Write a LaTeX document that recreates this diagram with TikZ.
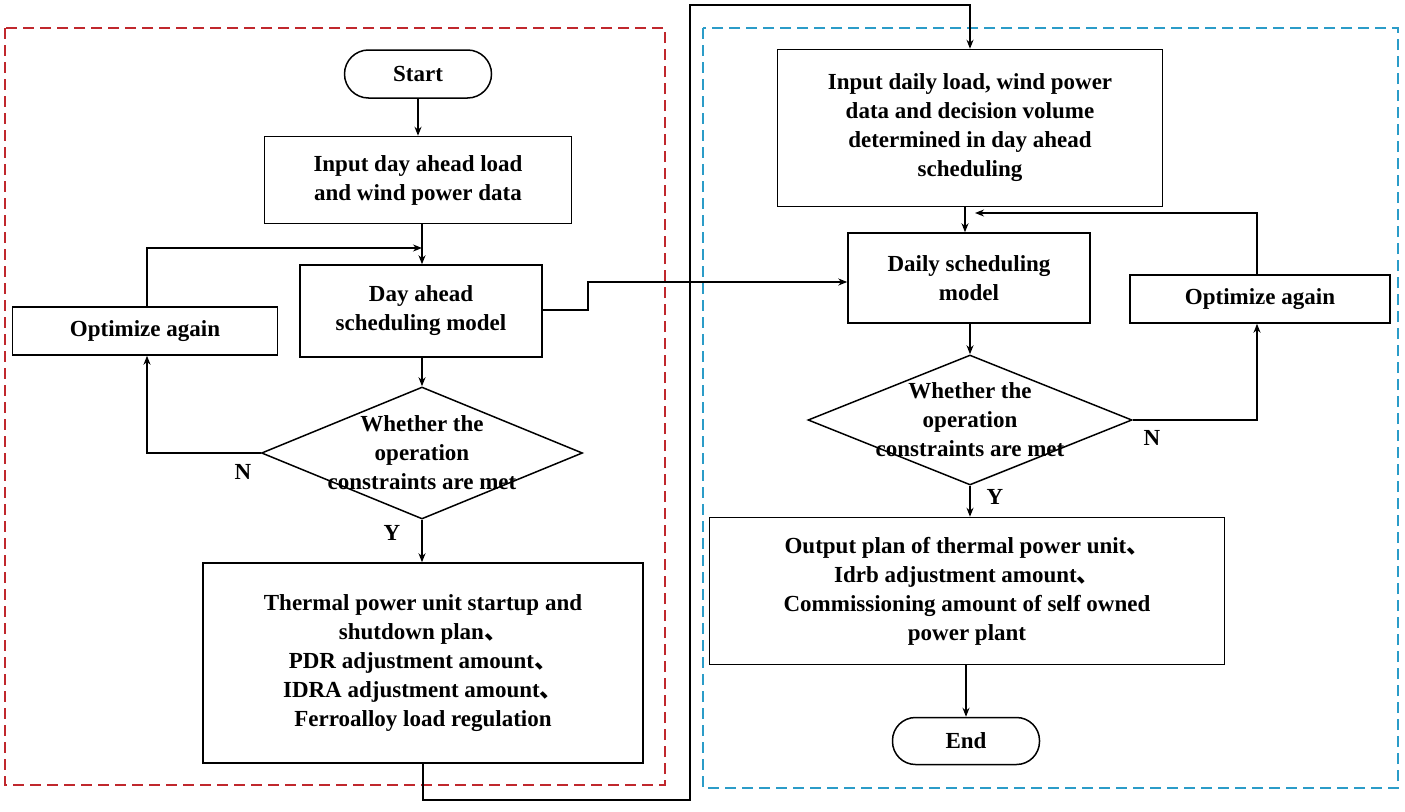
\documentclass[tikz,border=0pt]{standalone}
\usepackage{fontspec}
\setmainfont{Liberation Serif}
\newfontfamily\cjk{Noto Sans CJK SC}
\newcommand{\dun}{{\cjk 、}}
\usetikzlibrary{shapes.geometric,arrows.meta}
\begin{document}
\begin{tikzpicture}[x=1pt,y=-1pt,
  txt/.style={font=\bfseries\fontsize{23}{29}\selectfont,align=center,inner sep=0pt},
  box/.style={draw,line width=1.5pt,txt,minimum width=#1},
  arr/.style={line width=1.5pt,-{Stealth[length=9pt,width=7pt]}},
  ln/.style={line width=1.5pt}]
\useasboundingbox (0,0) rectangle (1405,811);
\fill[white] (0,0) rectangle (1405,811);
\draw[line width=2pt,dash pattern=on 11pt off 6pt,color={rgb,255:red,192;green,40;blue,45}] (5,28) rectangle (665,785);
\draw[line width=2pt,dash pattern=on 11pt off 6pt,color={rgb,255:red,43;green,156;blue,200}] (703,28) rectangle (1398,788);
% left
\node[box=147pt,minimum height=48pt,rounded corners=24pt] (start) at (418,74) {Start};
\node[box=307pt,minimum height=87pt] (in1) at (418,180) {Input day ahead load\\and wind power data};
\node[box=242pt,minimum height=92pt] (m1) at (421,311) {Day ahead\\scheduling model};
\node[box=265pt,minimum height=48pt] (o1) at (145,331) {Optimize again};
\node[draw,line width=1.5pt,diamond,aspect=2.45,minimum width=321pt,minimum height=132pt,inner sep=0pt] (d1) at (422,453) {};
\node[txt] at (422,453) {Whether the\\operation\\constraints are met};
\node[txt] (n1) at (243,472) {N};
\node[txt] (y1) at (392,533) {Y};
\node[box=440pt,minimum height=200pt] (t1) at (423,663) {Thermal power unit startup and\\shutdown plan\dun\\PDR adjustment amount\dun\\IDRA adjustment amount\dun\\Ferroalloy load regulation};
% right
\node[box=385pt,minimum height=157pt] (in2) at (970,128) {Input daily load, wind power\\data and decision volume\\determined in day ahead\\scheduling};
\node[box=242pt,minimum height=90pt] (m2) at (969,278) {Daily scheduling\\model};
\node[box=260pt,minimum height=48pt] (o2) at (1260,299) {Optimize again};
\node[draw,line width=1.5pt,diamond,aspect=2.5,minimum width=324pt,minimum height=130pt,inner sep=0pt] (d2) at (970,420) {};
\node[txt] at (970,420) {Whether the\\operation\\constraints are met};
\node[txt] (n2) at (1152,438) {N};
\node[txt] (y2) at (995,497) {Y};
\node[box=515pt,minimum height=147pt] (out) at (967,591) {Output plan of thermal power unit\dun\\Idrb adjustment amount\dun\\Commissioning amount of self owned\\power plant};
\node[box=147pt,minimum height=47pt,rounded corners=23pt] (end) at (966,741) {End};
% connectors
\draw[arr] (start) -- (in1);
\draw[arr] (in1.south -| 422,0) -- (m1.north -| 422,0);
\draw[arr] (m1.south -| 422,0) -- (d1.north);
\draw[arr] (d1.south) -- (t1.north -| d1.south);
\draw[arr] (d1.west) -| (o1.south -| 147,0);
\draw[arr] (o1.north -| 147,0) |- (422,248);
\draw[arr] (m1.east |- 0,310) -- (588,310) |- (m2.west |- 0,282);
\draw[arr] (t1.south) -- (423,800) -| (690,5) -| (in2.north);
\draw[arr] (in2.south -| 965,0) -- (m2.north -| 965,0);
\draw[arr] (m2.south -| 970,0) -- (d2.north);
\draw[arr] (d2.east) -| (o2.south -| 1257,0);
\draw[arr] (o2.north -| 1257,0) |- (975,213);
\draw[arr] (d2.south) -- (out.north -| d2.south);
\draw[arr] (out.south -| 966,0) -- (end.north);
\end{tikzpicture}
\end{document}
